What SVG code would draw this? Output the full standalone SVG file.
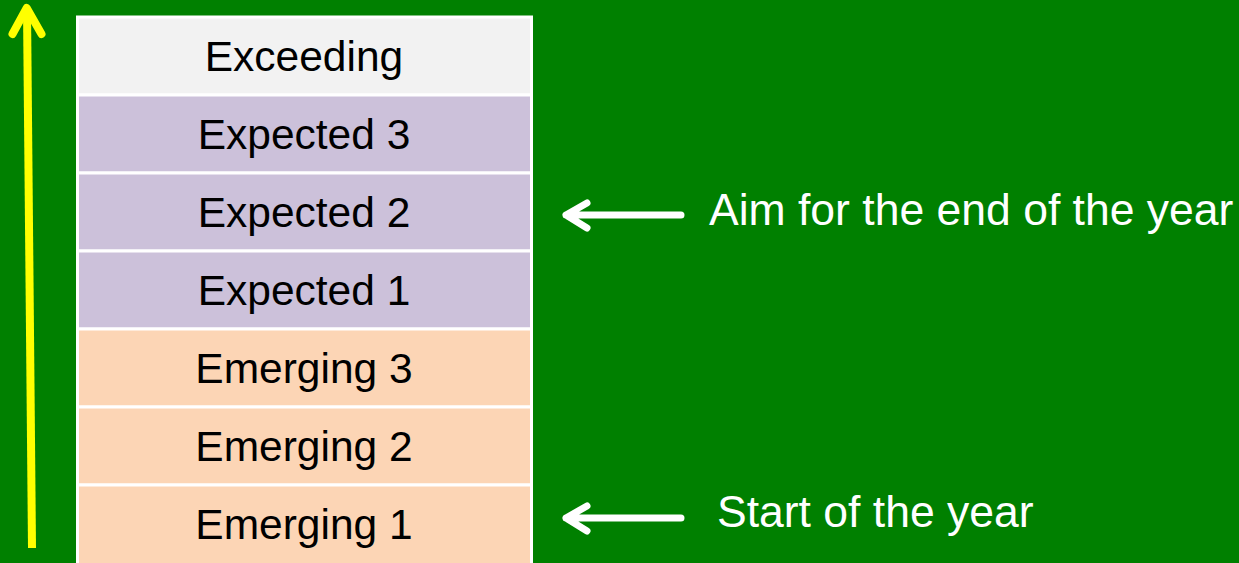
<svg xmlns="http://www.w3.org/2000/svg" width="1239" height="563" viewBox="0 0 1239 563">
<style>
.cell{stroke:#ffffff;stroke-width:3}
.lbl{font-family:"Liberation Sans",Arial,sans-serif;font-size:42.5px;fill:#000000;text-anchor:middle}
.note{font-family:"Liberation Sans",Arial,sans-serif;font-size:44.5px;fill:#ffffff}
.warr{fill:none;stroke:#ffffff;stroke-width:7;stroke-linecap:round;stroke-linejoin:round}
</style>
<rect width="1239" height="563" fill="#008000"/>
<g id="exceeding"><rect class="cell" x="77.5" y="17" width="454" height="78" fill="#f2f2f2"/><text class="lbl" x="304" y="71">Exceeding</text></g>
<g id="expected3"><rect class="cell" x="77.5" y="95" width="454" height="78" fill="#ccc1da"/><text class="lbl" x="304" y="149">Expected 3</text></g>
<g id="expected2"><rect class="cell" x="77.5" y="173" width="454" height="78" fill="#ccc1da"/><text class="lbl" x="304" y="227">Expected 2</text></g>
<g id="expected1"><rect class="cell" x="77.5" y="251" width="454" height="78" fill="#ccc1da"/><text class="lbl" x="304" y="305">Expected 1</text></g>
<g id="emerging3"><rect class="cell" x="77.5" y="329" width="454" height="78" fill="#fcd5b5"/><text class="lbl" x="304" y="383">Emerging 3</text></g>
<g id="emerging2"><rect class="cell" x="77.5" y="407" width="454" height="78" fill="#fcd5b5"/><text class="lbl" x="304" y="461">Emerging 2</text></g>
<g id="emerging1"><rect class="cell" x="77.5" y="485" width="454" height="80" fill="#fcd5b5"/><text class="lbl" x="304" y="539">Emerging 1</text></g>
<g id="connectors">
<path d="M32 548 L27 9" stroke="#ffff00" stroke-width="8" fill="none"/>
<path d="M12.5 34 L26.7 8 L41.5 34" stroke="#ffff00" stroke-width="8" fill="none" stroke-linecap="round" stroke-linejoin="round"/>
<path class="warr" d="M681 215 H566 M587 203 L566 215 L587 228"/>
<path class="warr" d="M681 518 H566 M587 506 L566 518 L587 531"/>
</g>
<g id="notes">
<text class="note" x="709" y="225">Aim for the end of the year</text>
<text class="note" x="717" y="527">Start of the year</text>
</g>
</svg>
